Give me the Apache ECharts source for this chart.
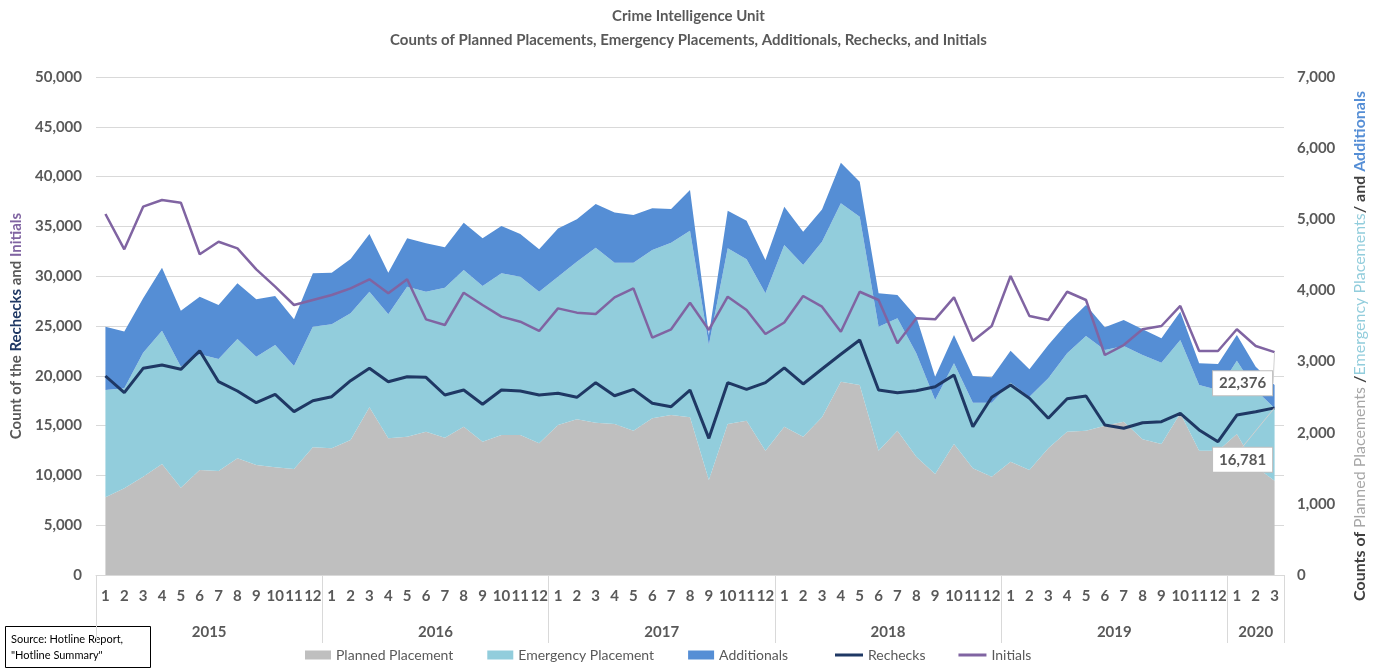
<!DOCTYPE html>
<html>
<head>
<meta charset="utf-8">
<title>Crime Intelligence Unit</title>
<script src="https://cdn.jsdelivr.net/npm/echarts@6/dist/echarts.min.js"></script>
<style>
  html, body { margin: 0; padding: 0; background: #fff; }
  #chart { width: 1377px; height: 669px; }
</style>
</head>
<body>
<div id="chart"></div>
<script>
// years and months shown on the category axis
var years = ['2015', '2016', '2017', '2018', '2019', '2020'];
var monthsPerYear = [12, 12, 12, 12, 12, 3];

// stacked areas (right axis)
var planned = [1092, 1219, 1382, 1560, 1227, 1476, 1462, 1640, 1546, 1514, 1490, 1795,
  1781, 1898, 2357, 1921, 1944, 2014, 1930, 2085, 1874, 1968, 1968, 1851,
  2108, 2188, 2141, 2122, 2028, 2203, 2249, 2216, 1335, 2122, 2169, 1747,
  2085, 1944, 2216, 2717, 2671, 1747, 2028, 1663, 1420, 1841, 1500, 1382,
  1593, 1476, 1781, 2014, 2028, 2099, 2155, 1907, 1841, 2273, 1747, 1747,
  1982, 1522, 1326];
var emergency = [1508, 1406, 1743, 1874, 1701, 1626, 1574, 1677, 1522, 1719, 1448, 1695,
  1743, 1781, 1625, 1743, 2108, 1968, 2108, 2203, 2188, 2273, 2225, 2131,
  2084, 2215, 2460, 2267, 2361, 2366, 2422, 2623, 1898, 2470, 2269, 2212,
  2554, 2413, 2468, 2508, 2366, 1743, 1580, 1453, 1040, 1134, 922, 1040,
  1110, 1030, 984, 1102, 1331, 1064, 1064, 1185, 1143, 1030, 923, 853,
  1030, 1078, 1018];
var additionals = [890, 796, 765, 886, 787, 810, 759, 783, 807, 689, 656, 751,
  725, 763, 811, 585, 680, 680, 568, 665, 670, 665, 600, 596,
  680, 596, 614, 708, 670, 586, 474, 572, 141, 529, 543, 468,
  538, 468, 455, 571, 492, 469, 328, 514, 328, 398, 375, 357,
  450, 385, 468, 422, 436, 319, 365, 361, 343, 398, 305, 365,
  361, 328, 328];

// lines (left axis)
var rechecks = [19980, 18305, 20750, 21085, 20650, 22520, 19410, 18475, 17300, 18140, 16400, 17500,
  17900, 19510, 20750, 19410, 19910, 19850, 18070, 18570, 17140, 18570, 18470, 18070,
  18240, 17840, 19310, 18000, 18640, 17240, 16900, 18570, 13720, 19310, 18640, 19310,
  20800, 19180, 20680, 22160, 23590, 18570, 18300, 18500, 18900, 20080, 14890, 17840,
  19080, 17740, 15730, 17700, 17970, 15060, 14730, 15290, 15390, 16230, 14560, 13380,
  16060, 16400, 16781];
var initials = [36245, 32700, 36980, 37650, 37380, 32200, 33460, 32800, 30690, 28950, 27110, 27610,
  28110, 28780, 29690, 28280, 29690, 25670, 25100, 28340, 27110, 25940, 25430, 24500,
  26770, 26340, 26200, 27880, 28780, 23830, 24670, 27340, 24600, 27940, 26610, 24200,
  25350, 28010, 26940, 24430, 28440, 27610, 23260, 25770, 25670, 27880, 23490, 25000,
  30020, 26000, 25600, 28440, 27610, 22090, 23090, 24670, 25000, 27010, 22490, 22490,
  24670, 22990, 22376];

var FONT = 'Lato';
var GREY = '#595959';

// month labels 1..12 per year
var monthLabels = [];
var yearBounds = [-0.5];
var yearCenters = [];
var pos = 0;
monthsPerYear.forEach(function (n) {
  for (var m = 1; m <= n; m++) monthLabels.push(String(m));
  yearCenters.push(pos + (n - 1) / 2);
  pos += n;
  yearBounds.push(pos - 0.5);
});

// only the last point gets a data label
function lastLabel(arr) {
  return arr.map(function (v, i) {
    return i === arr.length - 1 ? { value: v, label: { show: true } } : v;
  });
}

var boxLabel = {
  show: false,
  position: 'inside',
  formatter: function (p) { return p.value.toLocaleString('en-US'); },
  backgroundColor: '#fff',
  borderColor: '#bfbfbf',
  borderWidth: 1,
  padding: [5, 6, 4, 6],
  color: GREY,
  fontFamily: FONT,
  fontWeight: 'bold',
  fontSize: 15
};

var legendText = { color: GREY, fontSize: 14, fontFamily: FONT };

var chart = echarts.init(document.getElementById('chart'));
chart.setOption({
  animation: false,
  textStyle: { fontFamily: FONT },
  title: {
    text: 'Crime Intelligence Unit\nCounts of Planned Placements, Emergency Placements, Additionals, Rechecks, and Initials',
    left: 'center',
    top: -1,
    textStyle: { color: GREY, fontSize: 15, fontWeight: 'bold', lineHeight: 24, fontFamily: FONT, align: 'center' }
  },
  grid: { left: 96, right: 93, top: 77, bottom: 94 },
  legend: [{
    left: 300,
    top: 643,
    itemGap: 34,
    itemWidth: 26,
    itemHeight: 9,
    textStyle: legendText,
    data: [
      { name: 'Planned Placement', icon: 'rect' },
      { name: 'Emergency Placement', icon: 'rect' },
      { name: 'Additionals', icon: 'rect' }
    ]
  }, {
    left: 830,
    top: 643,
    itemGap: 33,
    itemWidth: 28,
    itemHeight: 3,
    textStyle: legendText,
    data: [
      { name: 'Rechecks', icon: 'rect' },
      { name: 'Initials', icon: 'rect' }
    ]
  }],
  xAxis: [{
    type: 'category',
    data: monthLabels,
    boundaryGap: true,
    axisLine: { lineStyle: { color: '#d9d9d9' } },
    axisTick: { show: false },
    axisLabel: { interval: 0, color: GREY, fontSize: 15, fontWeight: 'bold', margin: 14 }
  }, {
    // year row with separators
    type: 'value',
    position: 'bottom',
    min: -0.5,
    max: monthLabels.length - 0.5,
    axisLine: { show: false },
    splitLine: { show: false },
    axisTick: { show: true, length: 68, customValues: yearBounds, lineStyle: { color: '#d9d9d9' } },
    axisLabel: {
      customValues: yearCenters,
      margin: 50,
      color: GREY,
      fontSize: 15,
      fontWeight: 'bold',
      formatter: function (v) { return years[yearCenters.indexOf(v)]; }
    }
  }],
  yAxis: [{
    type: 'value',
    min: 0,
    max: 50000,
    interval: 5000,
    name: '{g|Count of the }{n|Rechecks}{g| and }{p|Initials}',
    nameLocation: 'middle',
    nameRotate: 90,
    nameGap: 72,
    nameTextStyle: {
      rich: {
        g: { color: GREY, fontSize: 15, fontWeight: 'bold', fontFamily: FONT },
        n: { color: '#1f3864', fontSize: 15, fontWeight: 'bold', fontFamily: FONT },
        p: { color: '#8064a2', fontSize: 15, fontWeight: 'bold', fontFamily: FONT }
      }
    },
    axisLine: { show: false },
    axisTick: { show: false },
    axisLabel: {
      color: GREY, fontSize: 15, fontWeight: 'bold', margin: 14,
      formatter: function (v) { return v.toLocaleString('en-US'); }
    },
    splitLine: { lineStyle: { color: '#d9d9d9' } }
  }, {
    type: 'value',
    min: 0,
    max: 7000,
    interval: 1000,
    position: 'right',
    name: '{g|Counts of }{a|Planned Placements }{g|/}{b|Emergency Placements}{g|/ and }{c|Additionals}',
    nameLocation: 'middle',
    nameRotate: 90,
    nameGap: 68,
    nameTextStyle: {
      padding: [0, 40, 0, 0],
      rich: {
        g: { color: '#404040', fontSize: 16, fontWeight: 'bold', fontFamily: FONT },
        a: { color: '#a6a6a6', fontSize: 16, fontFamily: FONT },
        b: { color: '#92cddc', fontSize: 16, fontFamily: FONT },
        c: { color: '#558ed5', fontSize: 16, fontWeight: 'bold', fontFamily: FONT }
      }
    },
    axisLine: { show: false },
    axisTick: { show: false },
    axisLabel: {
      color: GREY, fontSize: 15, fontWeight: 'bold', margin: 13,
      formatter: function (v) { return v.toLocaleString('en-US'); }
    },
    splitLine: { show: false }
  }],
  series: [{
    name: 'Planned Placement',
    type: 'line',
    yAxisIndex: 1,
    stack: 'placements',
    data: planned,
    symbol: 'none',
    color: '#bfbfbf',
    lineStyle: { width: 0 },
    areaStyle: { color: '#bfbfbf', opacity: 1 }
  }, {
    name: 'Emergency Placement',
    type: 'line',
    yAxisIndex: 1,
    stack: 'placements',
    data: emergency,
    symbol: 'none',
    color: '#92cddc',
    lineStyle: { width: 0 },
    areaStyle: { color: '#92cddc', opacity: 1 }
  }, {
    name: 'Additionals',
    type: 'line',
    yAxisIndex: 1,
    stack: 'placements',
    data: additionals,
    symbol: 'none',
    color: '#558ed5',
    lineStyle: { width: 0 },
    areaStyle: { color: '#558ed5', opacity: 1 }
  }, {
    name: 'Rechecks',
    type: 'line',
    yAxisIndex: 0,
    data: lastLabel(rechecks),
    symbol: 'circle',
    symbolSize: 0.1,
    showSymbol: true,
    showAllSymbol: true,
    color: '#1f3864',
    lineStyle: { width: 3, color: '#1f3864' },
    label: boxLabel,
    labelLayout: { dx: -32, dy: 52 },
    labelLine: { show: true, lineStyle: { color: '#d0d0d0', width: 1 } }
  }, {
    name: 'Initials',
    type: 'line',
    yAxisIndex: 0,
    data: lastLabel(initials),
    symbol: 'circle',
    symbolSize: 0.1,
    showSymbol: true,
    showAllSymbol: true,
    color: '#8064a2',
    lineStyle: { width: 2.5, color: '#8064a2' },
    label: boxLabel,
    labelLayout: { dx: -32, dy: 31 },
    labelLine: { show: true, lineStyle: { color: '#d0d0d0', width: 1 } }
  }],
  graphic: [{
    type: 'rect',
    left: 5,
    top: 626,
    shape: { width: 145, height: 41 },
    style: { fill: '#fff', stroke: '#000', lineWidth: 1 }
  }, {
    type: 'text',
    left: 11,
    top: 631,
    style: {
      text: 'Source: Hotline Report,\n"Hotline Summary"',
      font: '11px ' + FONT,
      fill: '#000',
      lineHeight: 16
    }
  }]
});

window.addEventListener('resize', function () { chart.resize(); });
</script>
</body>
</html>
